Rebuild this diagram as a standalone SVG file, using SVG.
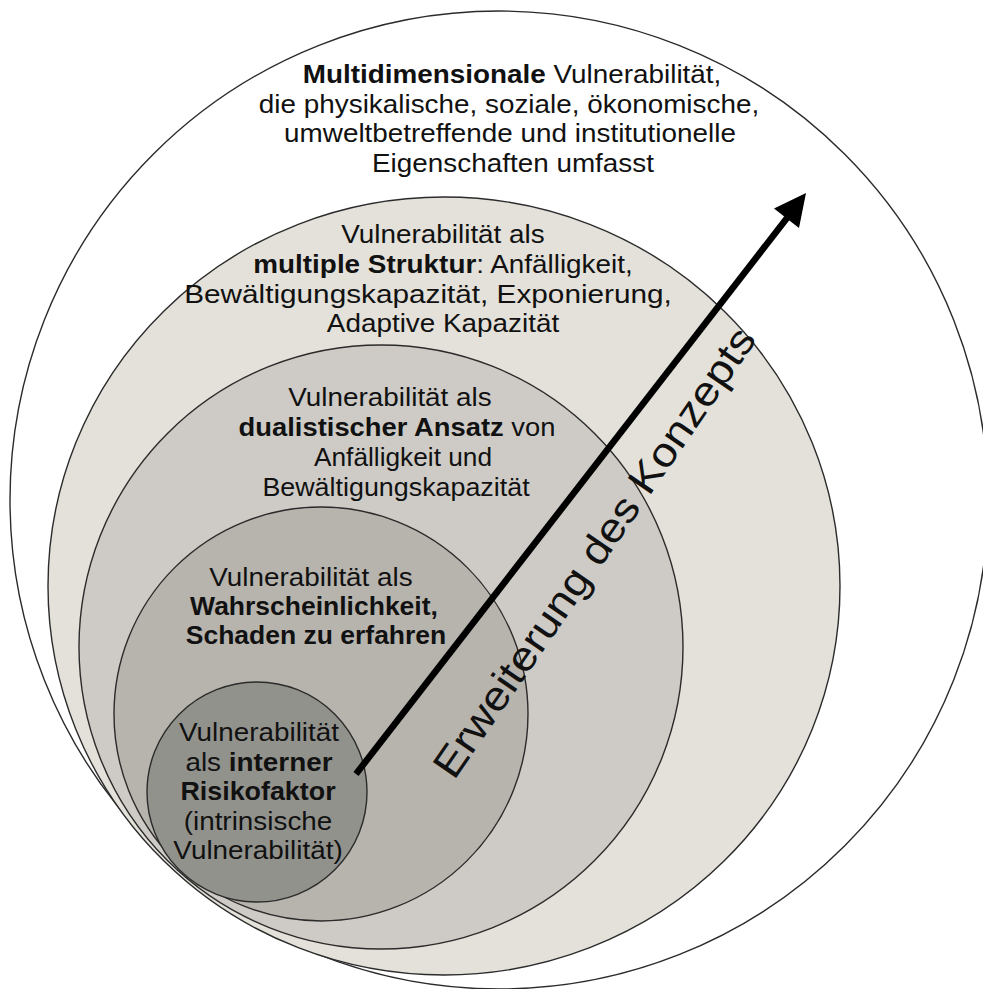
<svg xmlns="http://www.w3.org/2000/svg" width="983" height="989" viewBox="0 0 983 989">
  <style>
    .ring { stroke: #2b2b2b; stroke-width: 1.4; }
    .lbl { font-family: "Liberation Sans", Arial, sans-serif; font-size: 25px; fill: #111; text-anchor: middle; }
    .b { font-weight: bold; }
    .axis-lbl { font-family: "Liberation Sans", Arial, sans-serif; font-size: 41px; fill: #111; }
  </style>

  <rect width="983" height="989" fill="#fff"/>

  <!-- outermost level -->
  <g id="node-multidimensional">
    <circle class="ring" cx="499" cy="500" r="489" fill="#ffffff"/>
    <text class="lbl" transform="translate(512,83) scale(1.115,1)"><tspan class="b">Multidimensionale</tspan> Vulnerabilität,</text>
    <text class="lbl" transform="translate(509,112.5) scale(1.115,1)">die physikalische, soziale, ökonomische,</text>
    <text class="lbl" transform="translate(510,142) scale(1.115,1)">umweltbetreffende und institutionelle</text>
    <text class="lbl" transform="translate(513,171.5) scale(1.115,1)">Eigenschaften umfasst</text>
  </g>

  <!-- multiple structure -->
  <g id="node-multiple">
    <ellipse class="ring" cx="444" cy="586" rx="396" ry="389" fill="#e3e1d9"/>
    <text class="lbl" transform="translate(443,243) scale(1.115,1)">Vulnerabilität als</text>
    <text class="lbl" transform="translate(443,272.7) scale(1.115,1)"><tspan class="b">multiple Struktur</tspan>: Anfälligkeit,</text>
    <text class="lbl" transform="translate(428,302.7) scale(1.19,1)">Bewältigungskapazität, Exponierung,</text>
    <text class="lbl" transform="translate(443,332) scale(1.115,1)">Adaptive Kapazität</text>
  </g>

  <!-- dualistic approach -->
  <g id="node-dualistic">
    <circle class="ring" cx="381" cy="647" r="302" fill="#cecbc7"/>
    <text class="lbl" transform="translate(390,405.7) scale(1.115,1)">Vulnerabilität als</text>
    <text class="lbl" transform="translate(397,435.7) scale(1.095,1)"><tspan class="b">dualistischer Ansatz</tspan> von</text>
    <text class="lbl" transform="translate(403,465.7) scale(1.05,1)">Anfälligkeit und</text>
    <text class="lbl" transform="translate(396,495.5) scale(1.075,1)">Bewältigungskapazität</text>
  </g>

  <!-- probability of harm -->
  <g id="node-probability">
    <circle class="ring" cx="321" cy="714" r="207" fill="#b7b4ae"/>
    <text class="lbl" transform="translate(311,586) scale(1.115,1)">Vulnerabilität als</text>
    <text class="lbl b" transform="translate(314,615) scale(1.06,1)">Wahrscheinlichkeit,</text>
    <text class="lbl b" transform="translate(316,644.3) scale(1.06,1)">Schaden zu erfahren</text>
  </g>

  <!-- internal risk factor -->
  <g id="node-internal">
    <circle class="ring" cx="257" cy="792" r="110" fill="#92928d"/>
    <text class="lbl" transform="translate(259,741) scale(1.115,1)">Vulnerabilität</text>
    <text class="lbl" transform="translate(259,771) scale(1.115,1)">als <tspan class="b">interner</tspan></text>
    <text class="lbl b" transform="translate(258,800) scale(1.075,1)">Risikofaktor</text>
    <text class="lbl" transform="translate(258,830) scale(1.115,1)">(intrinsische</text>
    <text class="lbl" transform="translate(258,859) scale(1.115,1)">Vulnerabilität)</text>
  </g>

  <!-- expansion arrow and its label -->
  <g id="connectors">
    <line x1="356" y1="774" x2="787" y2="218" stroke="#000" stroke-width="6.5"/>
    <polygon points="806,193 799,228 774,208.5" fill="#000"/>
    <text class="axis-lbl" transform="translate(454,781) rotate(-55.5) scale(1.12,1)">Erweiterung des Konzepts</text>
  </g>
</svg>
